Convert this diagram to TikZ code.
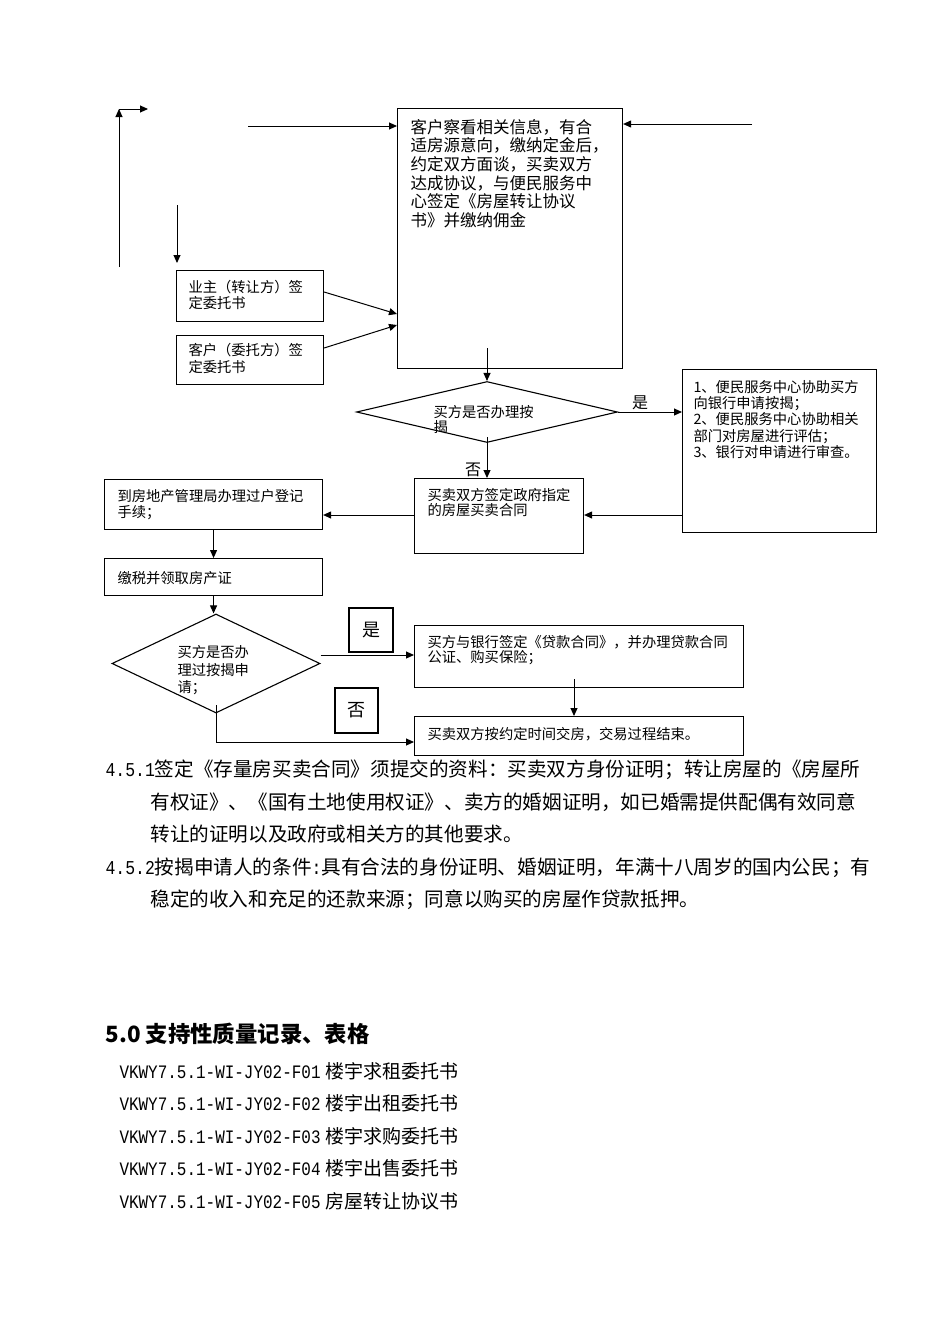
\documentclass[tikz,border=0pt]{standalone}
\usepackage{fontspec}
\setmainfont{Noto Sans CJK SC}
\newfontfamily\codefont[FakeStretch=0.84]{Liberation Mono}
\usetikzlibrary{arrows.meta,shapes.geometric}

\begin{document}
\begin{tikzpicture}[x=1pt,y=-1pt,line width=1pt,
  >={Triangle[length=8pt,width=7pt]},
  box/.style n args={2}{draw,line width=1.1pt,inner sep=0pt,minimum width=#1,minimum height=#2,anchor=north west},
  ask/.style n args={2}{draw,line width=1.1pt,shape=diamond,inner sep=0pt,minimum width=#1,minimum height=#2},
  txt/.style={inner sep=0pt,anchor=west,align=left,font=\fontsize{14.3}{#1}\selectfont},
  lbl/.style={inner sep=0pt,font=\fontsize{16}{16}\selectfont},
  flag/.style={draw,line width=1.1pt,inner sep=0pt,minimum width=44pt,minimum height=44pt,font=\fontsize{18}{18}\selectfont},
  body/.style={inner sep=0pt,anchor=west,font=\fontsize{19.6}{19.6}\selectfont}]
\useasboundingbox (0,0) rectangle (950,1344);
\fill[white] (0,0) rectangle (950,1344);

% boxes
\node[box={225pt}{260pt}] (main) at (397,108) {};
\node[box={147pt}{51pt}] (yezhu) at (176,270) {};
\node[box={147pt}{49pt}] (kehu) at (176,335) {};
\node[ask={261pt}{61pt}] (ask1) at (487,412) {};
\node[box={194pt}{163pt}] (bank) at (682,369) {};
\node[box={169pt}{75pt}] (contract) at (414,478) {};
\node[box={218pt}{50pt}] (transfer) at (104,479) {};
\node[box={218pt}{37pt}] (tax) at (104,558) {};
\node[ask={208pt}{99pt}] (ask2) at (216,663.5) {};
\node[box={329pt}{62pt}] (loan) at (414,625) {};
\node[box={329pt}{39pt}] (finish) at (414,716) {};
\node[flag] (yes2) at (371,630) {是};
\node[flag,minimum width=43pt,minimum height=45pt] (no2) at (356.5,710.5) {否};

% texts
\node[txt=18.6,font=\fontsize{16.5}{18.6}\selectfont] (maintxt) at (410,173.5) {客户察看相关信息，有合\\适房源意向，缴纳定金后，\\约定双方面谈，买卖双方\\达成协议，与便民服务中\\心签定《房屋转让协议\\书》并缴纳佣金};
\node[txt=16] (yezhutxt) at (188,295) {业主（转让方）签\\定委托书};
\node[txt=16.5] (kehutxt) at (188,358.5) {客户（委托方）签\\定委托书};
\node[txt=15] (ask1txt) at (433,419.5) {买方是否办理按\\揭};
\node[txt=16.25] (banktxt) at (693,419.5) {1、便民服务中心协助买方\\向银行申请按揭；\\2、便民服务中心协助相关\\部门对房屋进行评估；\\3、银行对申请进行审查。};
\node[txt=15] (contracttxt) at (427,502.5) {买卖双方签定政府指定\\的房屋买卖合同};
\node[txt=16] (transfertxt) at (117,505) {到房地产管理局办理过户登记\\手续；};
\node[txt=16] (taxtxt) at (117,578) {缴税并领取房产证};
\node[txt=17.5] (ask2txt) at (177,670.5) {买方是否办\\理过按揭申\\请；};
\node[txt=15] (loantxt) at (427,650.5) {买方与银行签定《贷款合同》，并办理贷款合同\\公证、购买保险；};
\node[txt=15] (finishtxt) at (427,734) {买卖双方按约定时间交房，交易过程结束。};
\node[lbl] (yes1) at (640,403) {是};
\node[lbl] (no1) at (473,470) {否};

% connectors
\coordinate (up0) at (119,267);
\coordinate (up1) at (119,109);
\coordinate (up2) at (148,109);
\draw[->] (up0) -- (up1);
\draw[->] (up1) -- (up2);
\coordinate (in1) at (248,126);
\draw[->] (in1) -- (in1 -| main.west);
\coordinate (in2) at (752,124);
\draw[->] (in2) -- (in2 -| main.east);
\coordinate (dn0) at (177,205);
\coordinate (dn1) at (177,263);
\draw[->] (dn0) -- (dn1);
\draw[->] (yezhu.east |- 0,292) -- (main.west |- 0,314);
\draw[->] (kehu.east |- 0,348) -- (main.west |- 0,325);
\draw[->] (ask1.north |- 0,348) -- (ask1.north);
\draw[->] (ask1.east) -- (bank.west |- ask1.east);
\draw[->] (ask1.south |- 0,437) -- (ask1.south |- contract.north);
\draw[->] (bank.west |- 0,515) -- (contract.east |- 0,515);
\draw[->] (contract.west |- 0,515) -- (transfer.east |- 0,515);
\draw[->] (transfer.south) -- (tax.north);
\draw[->] (tax.south) -- (tax.south |- ask2.north);
\draw[->] (ask2.east |- 0,655) -- (loan.west |- 0,655);
\coordinate (l0) at (574,679);
\draw[->] (l0) -- (l0 |- finish.north);
\draw[->] (ask2.south |- 0,705) -- (ask2.south |- 0,742) -- (finish.west |- 0,742);

% text below
\node[body] (p1a) at (105,770) {{\codefont 4.5.1}签定《存量房买卖合同》须提交的资料：买卖双方身份证明；转让房屋的《房屋所};
\node[body] (p1b) at (150,802) {有权证》、《国有土地使用权证》、卖方的婚姻证明，如已婚需提供配偶有效同意};
\node[body] (p1c) at (150,834) {转让的证明以及政府或相关方的其他要求。};
\node[body] (p2a) at (105,868) {{\codefont 4.5.2}按揭申请人的条件{\codefont :}具有合法的身份证明、婚姻证明，年满十八周岁的国内公民；有};
\node[body] (p2b) at (150,900) {稳定的收入和充足的还款来源；同意以购买的房屋作贷款抵押。};
\node[body,font=\fontsize{22.4}{22.4}\selectfont\bfseries] (sec) at (105,1034) {5.0 支持性质量记录、表格};
\foreach \n/\t [count=\i] in {01/楼宇求租委托书,02/楼宇出租委托书,03/楼宇求购委托书,04/楼宇出售委托书,05/房屋转让协议书}
  \node[body,font=\fontsize{19}{19}\selectfont] (form\i) at (119,{1071+32.5*(\i-1)}) {{\codefont VKWY7.5.1-WI-JY02-F\n}\hspace{5pt}\t};
\end{tikzpicture}
\end{document}
